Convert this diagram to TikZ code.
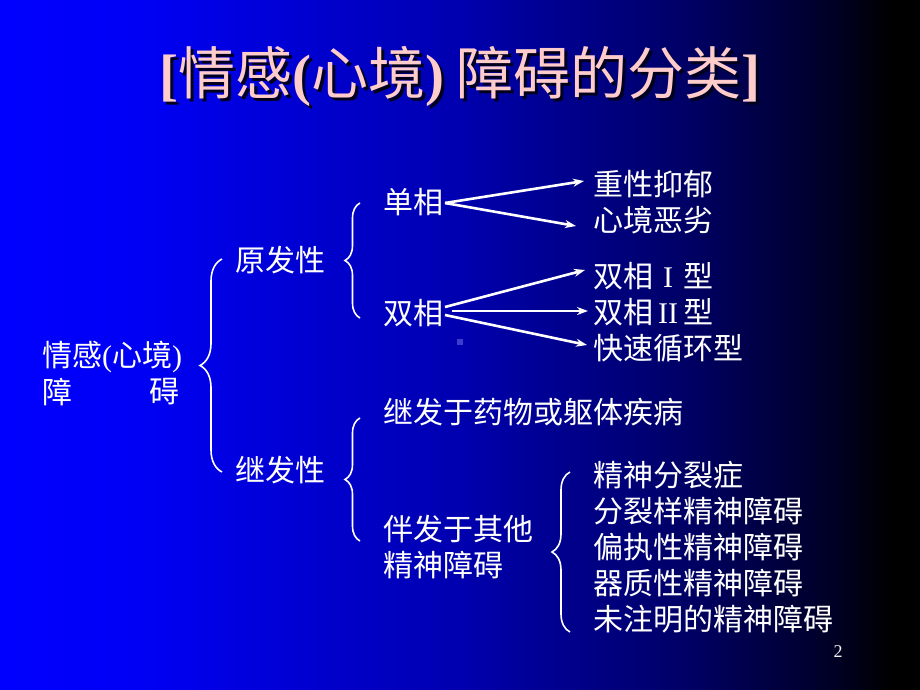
\documentclass[tikz,border=0pt]{standalone}
\usepackage{fontspec}
\setmainfont{Liberation Serif}
\newfontfamily\cjk{Noto Sans CJK SC}
\usetikzlibrary{arrows.meta,decorations.pathreplacing}
\definecolor{bgA}{RGB}{0,0,255}
\definecolor{bgB}{RGB}{0,0,245}
\definecolor{bgC}{RGB}{0,0,175}
\definecolor{bgD}{RGB}{0,0,100}
\definecolor{bgE}{RGB}{0,0,40}
\definecolor{titlepink}{RGB}{255,204,204}
\definecolor{titleshadow}{RGB}{0,0,30}
\definecolor{specklecol}{RGB}{60,60,205}
\pgfdeclarehorizontalshading{slidebg}{100bp}{color(0bp)=(bgA); color(25bp)=(bgA); color(32.5bp)=(bgB); color(50bp)=(bgC); color(62.5bp)=(bgD); color(70bp)=(bgE); color(73.5bp)=(black); color(100bp)=(black)}
\newcommand{\rp}[1]{{\rmfamily #1}}
\newcommand{\tp}[1]{{\bfseries\rmfamily #1}}
\newcommand{\titletext}{\tp{[}情感\tp{(}心境\tp{)} 障碍的分类\tp{]}}
\begin{document}
\begin{tikzpicture}[x=1pt,y=-1pt,
  txt/.style={text=white,font=\cjk\fontsize{30}{36}\selectfont,inner sep=0pt,anchor=west},
  bracestyle/.style={draw=white,line width=1.6pt,decorate},
  arr/.style={draw=white,line width=2.6pt,-{Stealth[length=11pt,width=8pt]}}]
\useasboundingbox (0,0) rectangle (920,690);
\shade[shading=slidebg] (0,0) rectangle (920,690);
% title with drop shadow
\node[font=\cjk\fontsize{57}{60}\selectfont,inner sep=0pt] (title) at (460,78)
  {\makebox[0pt][l]{\hspace{3pt}\raisebox{-3pt}{\textcolor{titleshadow}{\titletext}}}\textcolor{titlepink}{\titletext}};
% left label
\node[txt] (root1) at (42,357) {情感\rp{(}心境\rp{)}};
\node[txt] (root2a) at (42,392) {障};
\node[txt,anchor=east] (root2b) at (180,392) {碍};
% level 1
\node[txt] (yuan) at (235,260) {原发性};
\node[txt] (ji) at (235,470) {继发性};
% level 2
\node[txt] (dan) at (383,202) {单相};
\node[txt] (shuang) at (383,313) {双相};
\node[txt] (jifa) at (383,412) {继发于药物或躯体疾病};
\node[txt] (ban1) at (383,529) {伴发于其他};
\node[txt] (ban2) at (383,565) {精神障碍};
% leaves
\node[txt] (zx) at (593,184) {重性抑郁};
\node[txt] (xj) at (593,220) {心境恶劣};
\node[txt] (s1) at (593,276) {双相\makebox[1em]{\rp{I}}型};
\node[txt] (s2) at (593,312) {双相\makebox[1em]{\rp{II}}型};
\node[txt] (ks) at (593,348) {快速循环型};
\node[txt] (l1) at (593,475) {精神分裂症};
\node[txt] (l2) at (593,511) {分裂样精神障碍};
\node[txt] (l3) at (593,547) {偏执性精神障碍};
\node[txt] (l4) at (593,583) {器质性精神障碍};
\node[txt] (l5) at (593,619) {未注明的精神障碍};
% page number
\node[text=white!90!gray,font=\rmfamily\fontsize{18}{20}\selectfont,inner sep=0pt] (pg) at (838,652) {2};
% speckle
\fill[specklecol] (457,339) rectangle (463,345);
% brace coordinates
\coordinate (b1t) at (222,259);
\coordinate (b1b) at (222,472);
\coordinate (b2t) at (360,203);
\coordinate (b2b) at (360,318);
\coordinate (b3t) at (360,418);
\coordinate (b3b) at (360,541);
\coordinate (b4t) at (570,472);
\coordinate (b4b) at (570,632);
\draw[bracestyle,decoration={brace,amplitude=22pt}] (b1b) -- (b1t);
\draw[bracestyle,decoration={brace,amplitude=15pt}] (b2b) -- (b2t);
\draw[bracestyle,decoration={brace,amplitude=15pt}] (b3b) -- (b3t);
\draw[bracestyle,decoration={brace,amplitude=18pt}] (b4b) -- (b4t);
% arrow coordinates
\coordinate (dS) at (445,203);
\coordinate (t1) at (584,181);
\coordinate (t2) at (576,226);
\coordinate (sS1) at (445,307);
\coordinate (sS2) at (452,311);
\coordinate (sS3) at (445,315);
\coordinate (t3) at (585,270);
\coordinate (t4) at (588,311);
\coordinate (t5) at (587,345);
\draw[arr] (dS) -- (t1);
\draw[arr] (dS) -- (t2);
\draw[arr] (sS1) -- (t3);
\draw[arr,line width=2pt] (sS2) -- (t4);
\draw[arr] (sS3) -- (t5);
\end{tikzpicture}
\end{document}
